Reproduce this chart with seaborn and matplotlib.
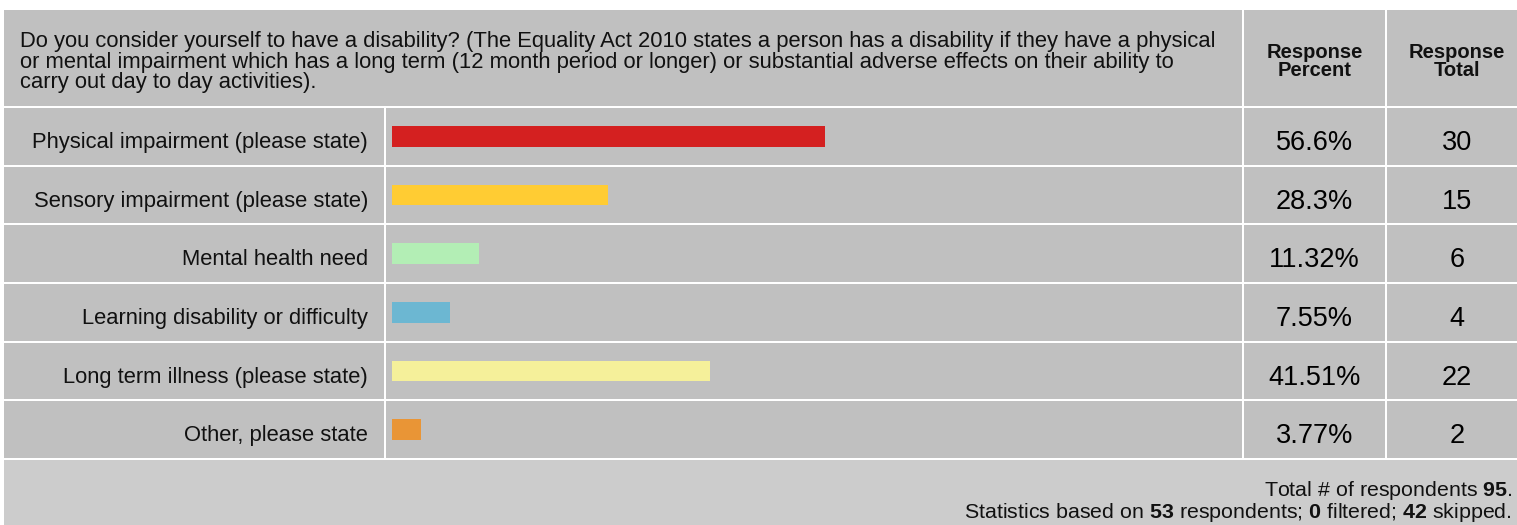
import matplotlib
matplotlib.use("Agg")
import matplotlib.pyplot as plt
import matplotlib.transforms as mtransforms
from matplotlib.patches import Rectangle
import seaborn as sns
import pandas as pd

# ---- data ----
categories = [
    "Physical impairment (please state)",
    "Sensory impairment (please state)",
    "Mental health need",
    "Learning disability or difficulty",
    "Long term illness (please state)",
    "Other, please state",
]
percent_values = [56.6, 28.3, 11.32, 7.55, 41.51, 3.77]
percent_labels = ["56.6%", "28.3%", "11.32%", "7.55%", "41.51%", "3.77%"]
totals = [30, 15, 6, 4, 22, 2]
bar_colors = ["#D42020", "#FFCC33", "#B3EEB5", "#6CB7D2", "#F5F09A", "#E99536"]
question = ("Do you consider yourself to have a disability? (The Equality Act 2010 states a person has a disability if they have a physical\n"
            "or mental impairment which has a long term (12 month period or longer) or substantial adverse effects on their ability to\n"
            "carry out day to day activities).")
header_percent = "Response\nPercent"
header_total = "Response\nTotal"
total_respondents = 95
based_on = 53
filtered = 0
skipped = 42

sns.set_theme(style="white")
plt.rcParams["font.family"] = ["Liberation Sans", "DejaVu Sans"]
plt.rcParams["mathtext.fontset"] = "custom"
plt.rcParams["mathtext.rm"] = "Liberation Sans"
plt.rcParams["mathtext.bf"] = "Liberation Sans:bold"

W, H = 1517, 525
fig = plt.figure(figsize=(W / 100, H / 100), dpi=100)

# background axes in pixel coordinates
bg = fig.add_axes([0, 0, 1, 1])
bg.set_xlim(0, W)
bg.set_ylim(H, 0)
bg.axis("off")

# bar axes: rows between y=107 and y=459 px, bars from x=392 spanning 765 px for 100 %
rows_top, rows_bot = 107, 459
bar_x0, bar_w = 392, 765
ax = fig.add_axes([bar_x0 / W, (H - rows_bot) / H, bar_w / W, (rows_bot - rows_top) / H])

df = pd.DataFrame({"category": categories, "percent": percent_values})
sns.barplot(data=df, x="percent", y="category", hue="category", palette=bar_colors,
            orient="h", width=0.35, saturation=1, legend=False, ax=ax, zorder=3,
            linewidth=0, edgecolor="none")
ax.set_xlim(0, 100)
ax.set_ylim(len(categories) - 0.5, -0.5)
ax.axis("off")
ax.patch.set_alpha(0)

cell = "#C0C0C0"
gap = 1.0 / (rows_bot - rows_top) * len(categories)  # ~1px in data units
txt = "#111111"

# header cells
for x0, x1 in [(4, 1242), (1244, 1385), (1387, 1530)]:
    bg.add_patch(Rectangle((x0, 10), x1 - x0, 96, facecolor=cell, edgecolor="none"))
bg.text(20, 31.5, question, ha="left", va="top", fontsize=15.85, linespacing=0.96, color=txt)
bg.text(1314.5, 61.5, header_percent, ha="center", va="center", fontsize=14.5, fontweight="bold",
        linespacing=0.98, color=txt)
bg.text(1457, 61.5, header_total, ha="center", va="center", fontsize=14.5, fontweight="bold",
        linespacing=0.98, color=txt)

# body rows: x in pixel coords, y in category coords
tr = mtransforms.blended_transform_factory(bg.transData, ax.transData)
for i, (cat, pl, tot) in enumerate(zip(categories, percent_labels, totals)):
    for x0, x1 in [(4, 384), (386, 1242), (1244, 1385), (1387, 1530)]:
        bg.add_patch(Rectangle((x0, i - 0.5 + gap), x1 - x0, 1 - 2 * gap, transform=tr,
                               facecolor=cell, edgecolor="none", zorder=0))
    bg.text(368, i + 0.06, cat, transform=tr, ha="right", va="center_baseline", fontsize=15.85, color=txt)
    bg.text(1314.5, i + 0.06, pl, transform=tr, ha="center", va="center_baseline", fontsize=19.5, color="#000000")
    bg.text(1457, i + 0.06, str(tot), transform=tr, ha="center", va="center_baseline", fontsize=19.5, color="#000000")

# footer
bg.add_patch(Rectangle((4, 460), 1530 - 4, 70, facecolor="#CCCCCC", edgecolor="none"))
footer = (rf"Total # of respondents $\mathbf{{{total_respondents}}}$." "\n"
          rf"Statistics based on $\mathbf{{{based_on}}}$ respondents; $\mathbf{{{filtered}}}$ filtered; $\mathbf{{{skipped}}}$ skipped.")
bg.text(1512, 501.5, footer, ha="right", va="center", multialignment="right",
        fontsize=15.4, linespacing=0.98, color=txt)

fig.savefig("out.png", dpi=100)
